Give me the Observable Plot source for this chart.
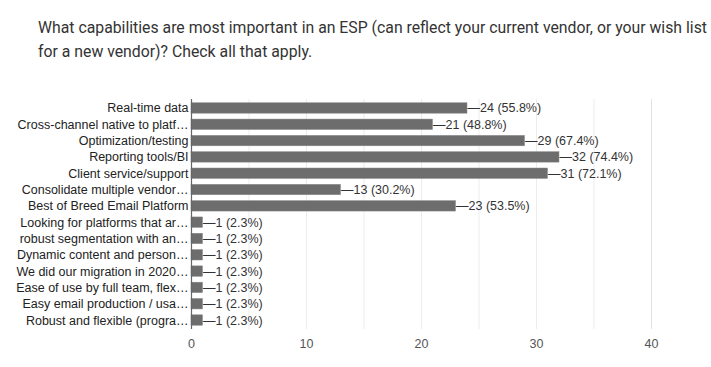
<!DOCTYPE html>
<html>
<head>
<meta charset="utf-8">
<script src="https://cdn.jsdelivr.net/npm/d3@7"></script>
<script src="https://cdn.jsdelivr.net/npm/@observablehq/plot@0.6"></script>
<style>
  html, body { margin: 0; padding: 0; background: #fff; }
  body { width: 711px; height: 367px; overflow: hidden; position: relative; }
  #title { position: absolute; left: 38px; top: 16px; font-family: Roboto, "Noto Sans", sans-serif; font-size: 15.8px; line-height: 24px; color: #333; white-space: nowrap; }
  #chart { position: absolute; left: 0; top: 90px; line-height: 0; }
</style>
</head>
<body>
<div id="title">What capabilities are most important in an ESP (can reflect your current vendor, or your wish list<br>for a new vendor)? Check all that apply.</div>
<div id="chart"></div>
<script>
const categories = [
  "Real-time data",
  "Cross-channel native to platf…",
  "Optimization/testing",
  "Reporting tools/BI",
  "Client service/support",
  "Consolidate multiple vendor…",
  "Best of Breed Email Platform",
  "Looking for platforms that ar…",
  "robust segmentation with an…",
  "Dynamic content and person…",
  "We did our migration in 2020…",
  "Ease of use by full team, flex…",
  "Easy email production / usa…",
  "Robust and flexible (progra…"
];
const counts = [24, 21, 29, 32, 31, 13, 23, 1, 1, 1, 1, 1, 1, 1];
const percents = ["55.8%", "48.8%", "67.4%", "74.4%", "72.1%", "30.2%", "53.5%", "2.3%", "2.3%", "2.3%", "2.3%", "2.3%", "2.3%", "2.3%"];
const xTicks = [0, 10, 20, 30, 40];
const gridValues = [5, 10, 15, 20, 25, 30, 35];

const data = categories.map((c, i) => ({label: c, count: counts[i], pct: percents[i]}));

const chart = Plot.plot({
  width: 711,
  height: 277,
  marginLeft: 191,
  marginRight: 60,
  marginTop: 9,
  marginBottom: 38,
  style: {fontFamily: "Arial, 'Liberation Sans', sans-serif", fontSize: "12.5px", color: "#333", background: "#fff"},
  x: {domain: [0, 40], ticks: xTicks, label: null, tickSize: 0, tickPadding: 10},
  y: {domain: categories, label: null, tickSize: 0, tickPadding: 3, paddingInner: 0.36, paddingOuter: 0.23, round: false},
  marks: [
    Plot.ruleX(gridValues, {stroke: "#ececec", strokeWidth: 1}),
    Plot.ruleX([40], {stroke: "#e2e2e2", strokeWidth: 1}),
    Plot.ruleY([0], {frameAnchor: "bottom", stroke: "#e2e2e2"}),
    Plot.barX(data, {y: "label", x: "count", fill: "#6d6d6d", stroke: "#8a8a8a", strokeWidth: 0.5}),
    Plot.ruleX([0], {stroke: "#666", strokeWidth: 1.2}),
    Plot.text(data, {y: "label", x: "count", text: d => "—" + d.count + " (" + d.pct + ")", textAnchor: "start", dx: 0, fill: "#333", fontSize: 12.5}),
    Plot.axisY({tickSize: 0, tickPadding: 3, fill: "#222", fontSize: 12.5}),
    Plot.axisX({ticks: xTicks, tickSize: 0, tickPadding: 10, fill: "#555", fontSize: 12.5})
  ]
});
document.getElementById("chart").appendChild(chart);
</script>
</body>
</html>
